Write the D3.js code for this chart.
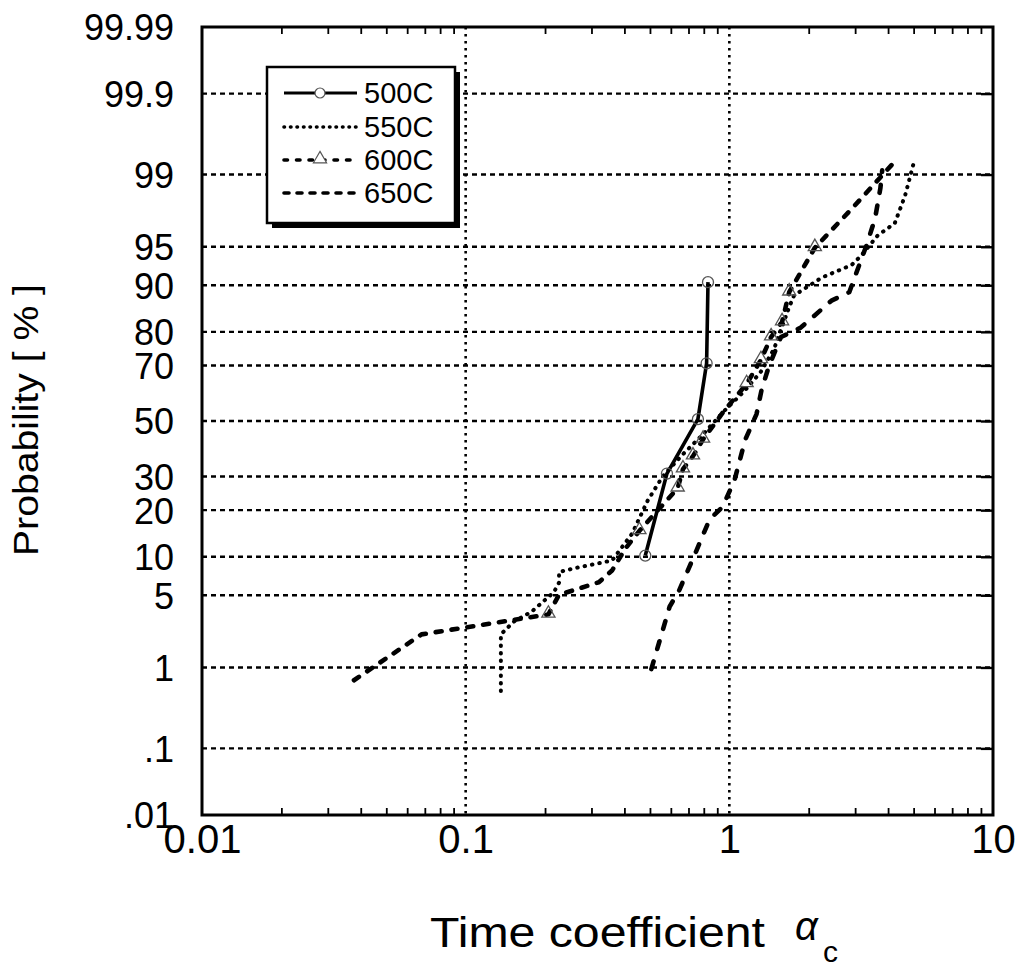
<!DOCTYPE html>
<html>
<head>
<meta charset="utf-8">
<script src="https://cdn.jsdelivr.net/npm/d3@7/dist/d3.min.js"></script>
<style>
  body { margin: 0; background: #fff; }
  text { font-family: "Liberation Sans", Arial, Helvetica, sans-serif; fill: #000; }
</style>
</head>
<body>
<svg id="chart" width="1024" height="967"></svg>
<script>
// probability axis (percent) and labels
const probTicks = [0.01, 0.1, 1, 5, 10, 20, 30, 50, 70, 80, 90, 95, 99, 99.9, 99.99];
const probLabels = [".01", ".1", "1", "5", "10", "20", "30", "50", "70", "80", "90", "95", "99", "99.9", "99.99"];
const xTicks = [0.01, 0.1, 1, 10];
const xLabels = ["0.01", "0.1", "1", "10"];

const seriesNames = ["500C", "550C", "600C", "650C"];

// 500C (solid, circles)
const x500 = [0.48, 0.58, 0.76, 0.82, 0.83];
const p500 = [10.2, 31, 50.7, 70.7, 90.5];

// 550C (dotted)
const x550 = [0.136, 0.136, 0.152, 0.178, 0.216, 0.226, 0.226, 0.264, 0.359, 0.428, 0.49, 0.56, 0.667, 0.795, 0.95, 1.135, 1.315, 1.476, 1.687, 1.76, 2.24, 2.91, 3.17, 3.65, 4.24, 4.64, 4.86, 5.03];
const p550 = [0.54, 2.2, 2.9, 3.6, 5.3, 6.35, 7.7, 8.3, 9.4, 14.4, 22.6, 30.2, 37.7, 45, 53.5, 60.9, 67.8, 75.1, 85.9, 88.2, 91.2, 92.96, 94.1, 96, 96.9, 98.33, 98.97, 99.3];

// 600C (dashed, triangles)
const x600 = [0.0377, 0.068, 0.206, 0.226, 0.32, 0.359, 0.403, 0.456, 0.637, 0.667, 0.728, 0.795, 0.95, 1.163, 1.318, 1.44, 1.585, 1.687, 2.11, 2.94, 3.8, 4.27];
const p600 = [0.72, 2.2, 3.4, 5.05, 6.4, 7.9, 11.4, 15, 26.3, 32.5, 37, 43.1, 53.5, 63.7, 71.8, 78.6, 82.5, 88.8, 94.9, 97.8, 98.98, 99.3];
const tri600x = [0.206, 0.456, 0.637, 0.667, 0.728, 0.795, 1.163, 1.318, 1.44, 1.585, 1.687, 2.11];
const tri600p = [3.4, 15, 26.3, 32.5, 37, 43.1, 63.7, 71.8, 78.6, 82.5, 88.8, 94.9];

// 650C (long dashes)
const x650 = [0.506, 0.594, 0.643, 0.743, 0.841, 0.943, 1.047, 1.148, 1.268, 1.325, 1.41, 1.57, 1.866, 2.44, 2.85, 3.06, 3.32, 3.57, 3.74, 3.8];
const p650 = [0.96, 4.0, 5.4, 10.6, 17.6, 20.9, 28.9, 42.9, 52.6, 61.5, 69.5, 78.6, 81.1, 87.2, 88.8, 92.3, 95.2, 97.2, 98.6, 99.1];

// inverse normal cdf (Acklam)
function probit(p) {
  const a = [-39.69683028665376, 220.9460984245205, -275.9285104469687, 138.3577518672690, -30.66479806614716, 2.506628277459239];
  const b = [-54.47609879822406, 161.5858368580409, -155.6989798598866, 66.80131188771972, -13.28068155288572];
  const c = [-0.007784894002430293, -0.3223964580411365, -2.400758277161838, -2.549671348827027, 4.374664141464968, 2.938163982698783];
  const d = [0.007784695709041462, 0.3224671290700398, 2.445134137142996, 3.754408661907416];
  const pl = 0.02425;
  let q, r;
  if (p < pl) {
    q = Math.sqrt(-2 * Math.log(p));
    return (((((c[0]*q+c[1])*q+c[2])*q+c[3])*q+c[4])*q+c[5]) / ((((d[0]*q+d[1])*q+d[2])*q+d[3])*q+1);
  }
  if (p > 1 - pl) {
    q = Math.sqrt(-2 * Math.log(1 - p));
    return -(((((c[0]*q+c[1])*q+c[2])*q+c[3])*q+c[4])*q+c[5]) / ((((d[0]*q+d[1])*q+d[2])*q+d[3])*q+1);
  }
  q = p - 0.5; r = q * q;
  return (((((a[0]*r+a[1])*r+a[2])*r+a[3])*r+a[4])*r+a[5])*q / (((((b[0]*r+b[1])*r+b[2])*r+b[3])*r+b[4])*r+1);
}

const plot = { left: 202, right: 993, top: 27, bottom: 815 };

const svg = d3.select("#chart");

const x = d3.scaleLog().domain([0.01, 10]).range([plot.left, plot.right]);
const y = d3.scaleLinear().domain([probit(0.0001), probit(0.9999)]).range([plot.bottom, plot.top]);
const yp = p => y(probit(p / 100));

// gridlines
const gridP = probTicks.slice(1, -1);
svg.append("g").attr("class", "hgrid")
  .selectAll("line").data(gridP).enter().append("line")
  .attr("x1", plot.left).attr("x2", plot.right)
  .attr("y1", d => yp(d)).attr("y2", d => yp(d))
  .attr("stroke", "#000").attr("stroke-width", 2.4)
  .attr("stroke-dasharray", "5,4");

svg.append("g").attr("class", "vgrid")
  .selectAll("line").data([0.1, 1]).enter().append("line")
  .attr("x1", d => x(d)).attr("x2", d => x(d))
  .attr("y1", plot.top).attr("y2", plot.bottom)
  .attr("stroke", "#000").attr("stroke-width", 2.6)
  .attr("stroke-dasharray", "2.5,4.5");

// minor ticks top and bottom
const minor = x.ticks().filter(d => Math.abs(Math.log10(d) - Math.round(Math.log10(d))) > 1e-6);
svg.append("g").attr("transform", "translate(0," + plot.bottom + ")")
  .call(d3.axisBottom(x).tickValues(minor).tickSize(-7).tickFormat(""))
  .call(g => g.select(".domain").remove())
  .selectAll("line").attr("stroke-width", 1.8);
svg.append("g").attr("transform", "translate(0," + plot.top + ")")
  .call(d3.axisTop(x).tickValues(minor).tickSize(-7).tickFormat(""))
  .call(g => g.select(".domain").remove())
  .selectAll("line").attr("stroke-width", 1.8);

// right ticks
svg.append("g").attr("transform", "translate(" + plot.right + ",0)")
  .call(d3.axisRight(y).tickValues(gridP.map(p => probit(p / 100))).tickSize(-12).tickFormat(""))
  .call(g => g.select(".domain").remove())
  .selectAll("line").attr("stroke-width", 2.4);

// y axis labels
const yAxis = svg.append("g").attr("transform", "translate(" + plot.left + ",0)")
  .call(d3.axisLeft(y).tickValues(probTicks.map(p => probit(p / 100)))
    .tickFormat((d, i) => probLabels[i]).tickSize(0).tickPadding(28));
yAxis.select(".domain").remove();
yAxis.selectAll("text")
  .attr("font-size", 36)
  .attr("font-family", "Liberation Sans, Arial, sans-serif")
  .attr("dy", "0.36em");

// x axis labels
const xAxis = svg.append("g").attr("transform", "translate(0," + plot.bottom + ")")
  .call(d3.axisBottom(x).tickValues(xTicks).tickFormat((d, i) => xLabels[i]).tickSize(0).tickPadding(10));
xAxis.select(".domain").remove();
xAxis.selectAll("text")
  .attr("font-size", 40)
  .attr("font-family", "Liberation Sans, Arial, sans-serif");

// frame
svg.append("rect")
  .attr("x", plot.left).attr("y", plot.top)
  .attr("width", plot.right - plot.left).attr("height", plot.bottom - plot.top)
  .attr("fill", "none").attr("stroke", "#000").attr("stroke-width", 3);

// series
const styles = {
  "500C": { dash: null, width: 3.6, legendDash: null },
  "550C": { dash: "0.5,7", width: 4, legendDash: "0.5,6" },
  "600C": { dash: "6,10", width: 4.6, legendDash: "3.5,9" },
  "650C": { dash: "8,13", width: 4.6, legendDash: "5,8" }
};
const seriesData = [
  { name: "500C", xs: x500, ps: p500 },
  { name: "550C", xs: x550, ps: p550 },
  { name: "600C", xs: x600, ps: p600 },
  { name: "650C", xs: x650, ps: p650 }
];
const line = d3.line().x(d => x(d[0])).y(d => yp(d[1]));

svg.append("g").selectAll("path").data(seriesData).enter().append("path")
  .attr("d", s => line(s.xs.map((v, i) => [v, s.ps[i]])))
  .attr("fill", "none").attr("stroke", "#000")
  .attr("stroke-width", s => styles[s.name].width)
  .attr("stroke-dasharray", s => styles[s.name].dash)
  .attr("stroke-linecap", s => s.name === "500C" ? "butt" : "round")
  .attr("stroke-linejoin", "round");

// markers
svg.append("g").selectAll("circle").data(x500.map((v, i) => [v, p500[i]])).enter().append("circle")
  .attr("cx", d => x(d[0])).attr("cy", d => yp(d[1])).attr("r", 5.5)
  .attr("fill", "none").attr("stroke", "#555").attr("stroke-width", 1.3);

const tri = d3.symbol().type(d3.symbolTriangle).size(75);
svg.append("g").selectAll("path").data(tri600x.map((v, i) => [v, tri600p[i]])).enter().append("path")
  .attr("d", tri)
  .attr("transform", d => "translate(" + x(d[0]) + "," + (yp(d[1]) - 1) + ")")
  .attr("fill", "none").attr("stroke", "#555").attr("stroke-width", 1.3);

// legend
const lg = svg.append("g");
lg.append("rect").attr("x", 272).attr("y", 72).attr("width", 188).attr("height", 156).attr("fill", "#000");
lg.append("rect").attr("x", 267).attr("y", 67).attr("width", 188).attr("height", 156)
  .attr("fill", "#fff").attr("stroke", "#000").attr("stroke-width", 2.5);
const rowY = [93, 127, 160, 193];
seriesNames.forEach((n, i) => {
  lg.append("line").attr("x1", 284).attr("x2", 357).attr("y1", rowY[i]).attr("y2", rowY[i])
    .attr("stroke", "#000").attr("stroke-width", n === "500C" ? 3 : 3.6)
    .attr("stroke-linecap", n === "500C" ? "butt" : "round")
    .attr("stroke-dasharray", styles[n].legendDash);
  lg.append("text").attr("x", 364).attr("y", rowY[i]).attr("dy", "0.36em")
    .attr("font-size", 29).text(n);
});
lg.append("circle").attr("cx", 320).attr("cy", rowY[0]).attr("r", 5)
  .attr("fill", "#fff").attr("stroke", "#555").attr("stroke-width", 1.2);
lg.append("path").attr("d", tri).attr("transform", "translate(320," + (rowY[2] - 1) + ")")
  .attr("fill", "#fff").attr("stroke", "#555").attr("stroke-width", 1.2);

// axis titles
svg.append("text")
  .attr("transform", "translate(38,420) rotate(-90)")
  .attr("text-anchor", "middle")
  .attr("font-size", 35)
  .attr("textLength", 272).attr("lengthAdjust", "spacingAndGlyphs")
  .text("Probability [ % ]");

svg.append("text")
  .attr("x", 430).attr("y", 947)
  .attr("font-size", 42)
  .attr("textLength", 335).attr("lengthAdjust", "spacingAndGlyphs")
  .text("Time coefficient");
svg.append("text")
  .attr("x", 795).attr("y", 940)
  .attr("font-size", 40).attr("font-style", "italic")
  .attr("font-family", "DejaVu Serif, serif")
  .text("\u03b1");
svg.append("text")
  .attr("x", 823).attr("y", 962)
  .attr("font-size", 30)
  .text("c");
</script>
</body>
</html>
